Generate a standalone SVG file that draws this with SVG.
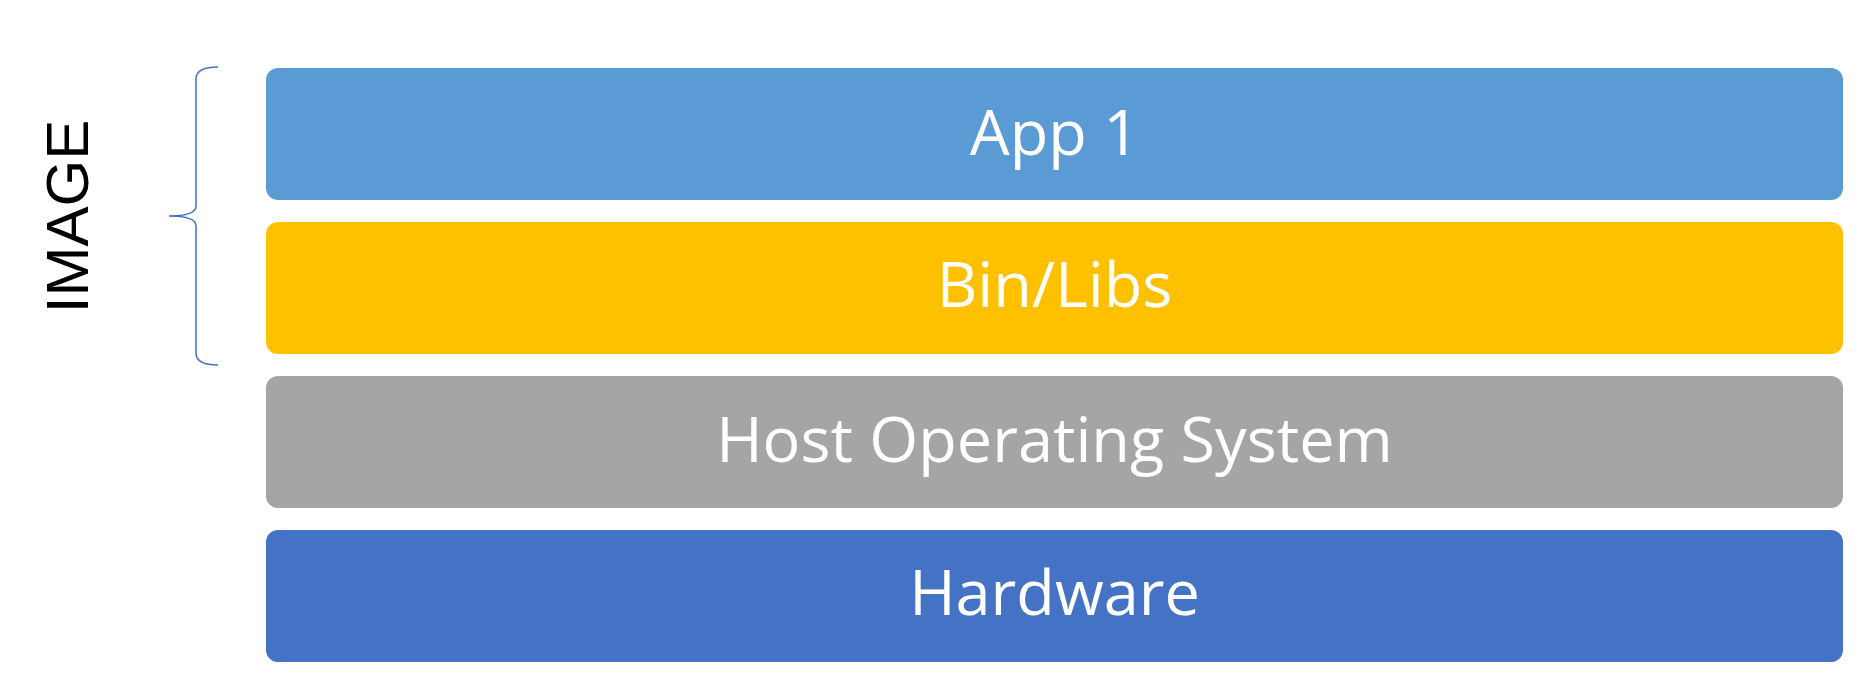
<svg xmlns="http://www.w3.org/2000/svg" width="1860" height="689" viewBox="0 0 1860 689">
<style>
  .box { stroke: none; }
  .lbl { font-family: "Open Sans", "Noto Sans", sans-serif; font-size: 63px; fill: #FFFFFF; text-anchor: middle; }
  .side { font-family: "Liberation Sans", Arial, sans-serif; font-size: 60px; fill: #000000; text-anchor: middle; }
  .brace { fill: none; stroke: #4472C4; stroke-width: 1.5; }
</style>
<rect x="0" y="0" width="1860" height="689" fill="#FFFFFF"/>
<g id="label-image">
  <text class="side" transform="translate(88,216.5) rotate(-90)" x="0" y="0">IMAGE</text>
</g>
<g id="connectors">
  <path class="brace" d="M218,67 Q196,67 196,79 L196,206 Q196,216 169,216 Q196,216 196,226 L196,353 Q196,365 218,365"/>
</g>
<g id="node-app1">
  <rect class="box" x="266" y="68" width="1577" height="132" rx="12" ry="12" fill="#5B9BD5"/>
  <text class="lbl" x="1054.5" y="155">App 1</text>
</g>
<g id="node-binlibs">
  <rect class="box" x="266" y="222" width="1577" height="132" rx="12" ry="12" fill="#FFC000"/>
  <text class="lbl" x="1054.5" y="307">Bin/Libs</text>
</g>
<g id="node-hostos">
  <rect class="box" x="266" y="376" width="1577" height="132" rx="12" ry="12" fill="#A5A5A5"/>
  <text class="lbl" x="1054.5" y="462">Host Operating System</text>
</g>
<g id="node-hardware">
  <rect class="box" x="266" y="530" width="1577" height="132" rx="12" ry="12" fill="#4472C4"/>
  <text class="lbl" x="1054.5" y="615">Hardware</text>
</g>
</svg>
